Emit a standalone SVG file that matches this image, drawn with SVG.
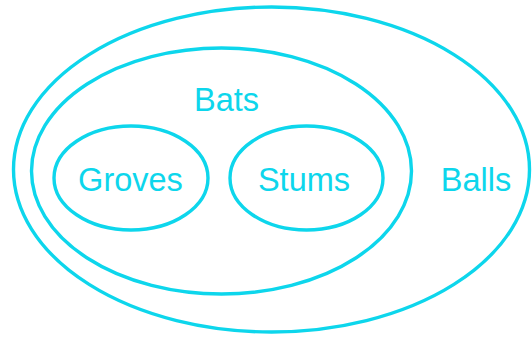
<svg xmlns="http://www.w3.org/2000/svg" width="532" height="338" viewBox="0 0 532 338">
<style>
.set{fill:none;stroke:#0dd6ec;stroke-width:3.4}
.lbl{font-family:"Liberation Sans",Arial,sans-serif;font-size:32.5px;fill:#0dd6ec;text-anchor:middle}
</style>
<rect width="532" height="338" fill="#ffffff"/>
<g id="balls">
<ellipse class="set" cx="271.5" cy="169.5" rx="258" ry="162.5"/>
<text class="lbl" x="476" y="191">Balls</text>
</g>
<g id="bats">
<ellipse class="set" cx="221.5" cy="171" rx="190" ry="123"/>
<text class="lbl" x="226.5" y="111">Bats</text>
</g>
<g id="groves">
<ellipse class="set" cx="131" cy="178" rx="77" ry="52"/>
<text class="lbl" x="130.5" y="191">Groves</text>
</g>
<g id="stums">
<ellipse class="set" cx="306.5" cy="178" rx="76.5" ry="52"/>
<text class="lbl" x="304" y="191">Stums</text>
</g>
<g id="connectors"></g>
</svg>
